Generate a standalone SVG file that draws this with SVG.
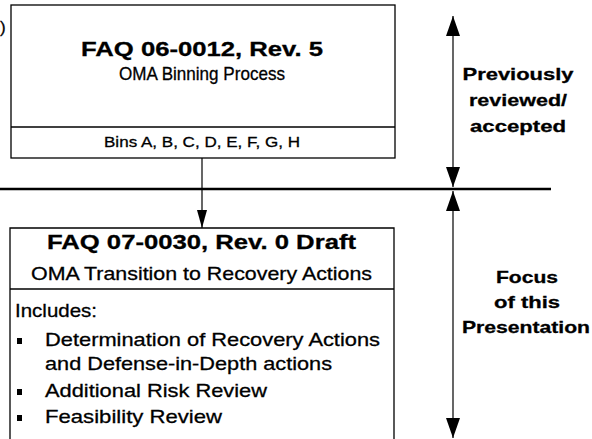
<svg xmlns="http://www.w3.org/2000/svg" width="592" height="439" viewBox="0 0 592 439">
  <style>
    .box { fill: #ffffff; stroke: #000000; stroke-width: 1.3; }
    .rule { stroke: #000000; stroke-width: 1.3; fill: none; }
    .t { font-family: "Liberation Sans", Arial, Helvetica, sans-serif; fill: #000000; stroke: #000000; stroke-width: 0.3; }
    .b { font-weight: bold; }
    .mid { text-anchor: middle; }
    .wire { stroke: #000000; stroke-width: 1.2; fill: none; }
  </style>
  <defs>
    <marker id="head" viewBox="0 0 18 10" refX="18" refY="5" markerWidth="18" markerHeight="10" markerUnits="userSpaceOnUse" orient="auto-start-reverse">
      <path d="M0 0 L18 5 L0 10 Z" fill="#000000"/>
    </marker>
    <marker id="bigHead" viewBox="0 0 20 14" refX="20" refY="7" markerWidth="20" markerHeight="14" markerUnits="userSpaceOnUse" orient="auto-start-reverse">
      <path d="M0 0 L20 7 L0 14 Z" fill="#000000"/>
    </marker>
  </defs>

  <rect width="592" height="439" fill="#ffffff"/>

  <!-- clipped glyph at the left edge -->
  <text class="t" x="0" y="33" font-size="17">)</text>

  <!-- separator between reviewed and new material -->
  <line x1="0" y1="189" x2="551" y2="189" stroke="#000000" stroke-width="2.5"/>

  <g id="faq-06-0012">
    <rect class="box" x="11" y="5" width="384" height="153"/>
    <line class="rule" x1="11" y1="127" x2="395" y2="127"/>
    <text class="t b mid" x="202" y="56" font-size="20" textLength="242" lengthAdjust="spacingAndGlyphs">FAQ 06-0012, Rev. 5</text>
    <text class="t mid" x="202" y="80" font-size="19" textLength="166" lengthAdjust="spacingAndGlyphs">OMA Binning Process</text>
    <text class="t mid" x="202" y="147" font-size="15" textLength="196" lengthAdjust="spacingAndGlyphs">Bins A, B, C, D, E, F, G, H</text>
  </g>

  <g id="faq-07-0030">
    <path class="rule" d="M10 439 V228 H394 V439"/>
    <line class="rule" x1="10" y1="289" x2="394" y2="289"/>
    <text class="t b mid" x="201.5" y="249" font-size="20" textLength="309" lengthAdjust="spacingAndGlyphs">FAQ 07-0030, Rev. 0 Draft</text>
    <text class="t mid" x="201.5" y="280" font-size="19" textLength="341" lengthAdjust="spacingAndGlyphs">OMA Transition to Recovery Actions</text>
    <text class="t" x="15" y="317" font-size="19" textLength="82" lengthAdjust="spacingAndGlyphs">Includes:</text>
    <rect x="17" y="338" width="5" height="6"/>
    <text class="t" x="45" y="346" font-size="19" textLength="335" lengthAdjust="spacingAndGlyphs">Determination of Recovery Actions</text>
    <text class="t" x="45" y="370" font-size="19" textLength="287" lengthAdjust="spacingAndGlyphs">and Defense-in-Depth actions</text>
    <rect x="17" y="389" width="5" height="6"/>
    <text class="t" x="45" y="397" font-size="19" textLength="222" lengthAdjust="spacingAndGlyphs">Additional Risk Review</text>
    <rect x="17" y="415" width="5" height="6"/>
    <text class="t" x="45" y="423" font-size="19" textLength="177" lengthAdjust="spacingAndGlyphs">Feasibility Review</text>
  </g>

  <g id="label-previous">
    <text class="t b mid" x="518" y="80" font-size="17" textLength="111" lengthAdjust="spacingAndGlyphs">Previously</text>
    <text class="t b mid" x="518" y="106" font-size="17" textLength="98" lengthAdjust="spacingAndGlyphs">reviewed/</text>
    <text class="t b mid" x="518" y="132" font-size="17" textLength="96" lengthAdjust="spacingAndGlyphs">accepted</text>
  </g>

  <g id="label-focus">
    <text class="t b mid" x="527" y="283" font-size="17" textLength="62" lengthAdjust="spacingAndGlyphs">Focus</text>
    <text class="t b mid" x="527" y="308" font-size="17" textLength="66" lengthAdjust="spacingAndGlyphs">of this</text>
    <text class="t b mid" x="526" y="333" font-size="17" textLength="128" lengthAdjust="spacingAndGlyphs">Presentation</text>
  </g>

  <g id="connectors">
    <line class="wire" x1="202" y1="158" x2="202" y2="228" marker-end="url(#head)"/>
    <line class="wire" x1="453" y1="16" x2="453" y2="187" marker-start="url(#bigHead)" marker-end="url(#bigHead)"/>
    <line class="wire" x1="453" y1="191" x2="453" y2="438" marker-start="url(#bigHead)" marker-end="url(#bigHead)"/>
  </g>
</svg>
